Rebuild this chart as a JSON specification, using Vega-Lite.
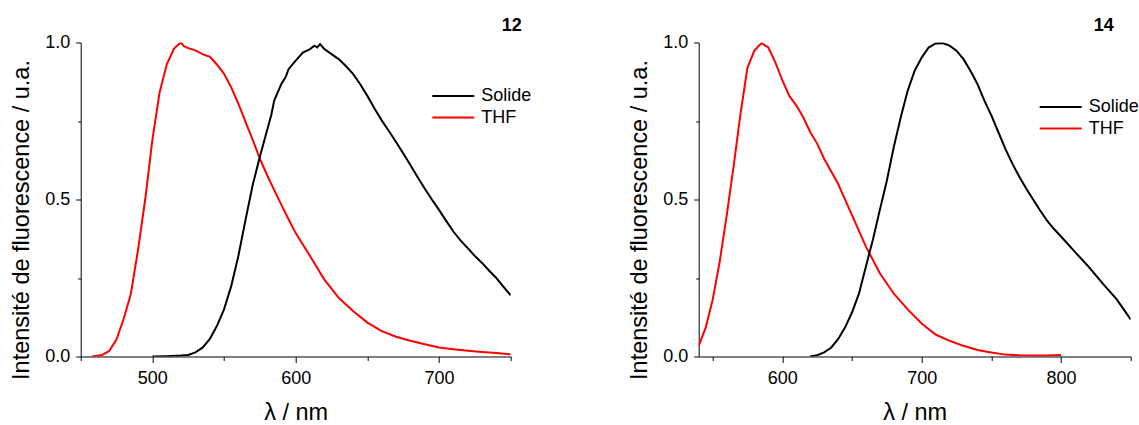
{
  "$schema": "https://vega.github.io/schema/vega-lite/v6.json",
  "background": "white",
  "padding": {"left": 8.7, "top": 16.5, "right": 5, "bottom": 0},
  "config": {
    "view": {"stroke": null},
    "font": "Liberation Sans",
    "axis": {
      "grid": false,
      "domainColor": "#000000",
      "domainWidth": 1,
      "tickColor": "#000000",
      "tickWidth": 1,
      "labelColor": "#000000",
      "labelFont": "Liberation Sans",
      "labelFontSize": 18,
      "titleFont": "Liberation Sans",
      "titleFontSize": 23.5,
      "titleFontWeight": "normal",
      "titleColor": "#000000"
    },
    "axisX": {"labelPadding": 7, "titlePadding": 13},
    "axisY": {"labelPadding": 6, "titlePadding": 11},
    "legend": {
      "labelFont": "Liberation Sans",
      "labelFontSize": 18,
      "labelColor": "#000000",
      "symbolType": "M-2,0H2",
      "symbolSize": 441,
      "symbolStrokeWidth": 2,
      "symbolFillColor": "transparent",
      "labelOffset": 16.5,
      "rowPadding": 0.6,
      "padding": 0,
      "title": null
    },
    "title": {"font": "Liberation Sans", "fontSize": 18, "fontWeight": "bold", "color": "#000000", "frame": "group"}
  },
  "datasets": {
    "p12": [
      {"nm": 458, "I": 0, "s": "THF"}, {"nm": 465, "I": 0.005, "s": "THF"}, {"nm": 470, "I": 0.018, "s": "THF"}, {"nm": 475, "I": 0.055, "s": "THF"}, {"nm": 480, "I": 0.12, "s": "THF"}, {"nm": 485, "I": 0.2, "s": "THF"}, {"nm": 490, "I": 0.34, "s": "THF"}, {"nm": 495, "I": 0.5, "s": "THF"}, {"nm": 500, "I": 0.69, "s": "THF"}, {"nm": 505, "I": 0.84, "s": "THF"}, {"nm": 510, "I": 0.93, "s": "THF"}, {"nm": 515, "I": 0.98, "s": "THF"}, {"nm": 518, "I": 0.993, "s": "THF"}, {"nm": 520, "I": 1.0, "s": "THF"}, {"nm": 522, "I": 0.988, "s": "THF"}, {"nm": 525, "I": 0.982, "s": "THF"}, {"nm": 530, "I": 0.975, "s": "THF"}, {"nm": 535, "I": 0.963, "s": "THF"}, {"nm": 538, "I": 0.958, "s": "THF"}, {"nm": 540, "I": 0.955, "s": "THF"}, {"nm": 545, "I": 0.93, "s": "THF"}, {"nm": 550, "I": 0.9, "s": "THF"}, {"nm": 555, "I": 0.857, "s": "THF"}, {"nm": 560, "I": 0.805, "s": "THF"}, {"nm": 565, "I": 0.747, "s": "THF"}, {"nm": 570, "I": 0.69, "s": "THF"}, {"nm": 575, "I": 0.63, "s": "THF"}, {"nm": 580, "I": 0.578, "s": "THF"}, {"nm": 585, "I": 0.53, "s": "THF"}, {"nm": 590, "I": 0.483, "s": "THF"}, {"nm": 595, "I": 0.437, "s": "THF"}, {"nm": 600, "I": 0.393, "s": "THF"}, {"nm": 610, "I": 0.32, "s": "THF"}, {"nm": 620, "I": 0.245, "s": "THF"}, {"nm": 630, "I": 0.187, "s": "THF"}, {"nm": 640, "I": 0.145, "s": "THF"}, {"nm": 650, "I": 0.108, "s": "THF"}, {"nm": 660, "I": 0.081, "s": "THF"}, {"nm": 670, "I": 0.063, "s": "THF"}, {"nm": 680, "I": 0.05, "s": "THF"}, {"nm": 690, "I": 0.039, "s": "THF"}, {"nm": 700, "I": 0.029, "s": "THF"}, {"nm": 710, "I": 0.023, "s": "THF"}, {"nm": 720, "I": 0.018, "s": "THF"}, {"nm": 730, "I": 0.014, "s": "THF"}, {"nm": 740, "I": 0.011, "s": "THF"}, {"nm": 750, "I": 0.007, "s": "THF"},
      {"nm": 500, "I": 0, "s": "Solide"}, {"nm": 510, "I": 0.001, "s": "Solide"}, {"nm": 520, "I": 0.003, "s": "Solide"}, {"nm": 525, "I": 0.005, "s": "Solide"}, {"nm": 530, "I": 0.013, "s": "Solide"}, {"nm": 535, "I": 0.028, "s": "Solide"}, {"nm": 540, "I": 0.055, "s": "Solide"}, {"nm": 545, "I": 0.097, "s": "Solide"}, {"nm": 550, "I": 0.15, "s": "Solide"}, {"nm": 555, "I": 0.224, "s": "Solide"}, {"nm": 560, "I": 0.32, "s": "Solide"}, {"nm": 565, "I": 0.435, "s": "Solide"}, {"nm": 570, "I": 0.546, "s": "Solide"}, {"nm": 575, "I": 0.636, "s": "Solide"}, {"nm": 580, "I": 0.72, "s": "Solide"}, {"nm": 583, "I": 0.77, "s": "Solide"}, {"nm": 585, "I": 0.815, "s": "Solide"}, {"nm": 590, "I": 0.868, "s": "Solide"}, {"nm": 593, "I": 0.89, "s": "Solide"}, {"nm": 595, "I": 0.915, "s": "Solide"}, {"nm": 600, "I": 0.942, "s": "Solide"}, {"nm": 605, "I": 0.968, "s": "Solide"}, {"nm": 610, "I": 0.979, "s": "Solide"}, {"nm": 613, "I": 0.99, "s": "Solide"}, {"nm": 615, "I": 0.984, "s": "Solide"}, {"nm": 617, "I": 0.995, "s": "Solide"}, {"nm": 620, "I": 0.979, "s": "Solide"}, {"nm": 625, "I": 0.963, "s": "Solide"}, {"nm": 630, "I": 0.947, "s": "Solide"}, {"nm": 635, "I": 0.925, "s": "Solide"}, {"nm": 640, "I": 0.9, "s": "Solide"}, {"nm": 645, "I": 0.867, "s": "Solide"}, {"nm": 650, "I": 0.83, "s": "Solide"}, {"nm": 655, "I": 0.79, "s": "Solide"}, {"nm": 660, "I": 0.752, "s": "Solide"}, {"nm": 665, "I": 0.718, "s": "Solide"}, {"nm": 670, "I": 0.683, "s": "Solide"}, {"nm": 675, "I": 0.647, "s": "Solide"}, {"nm": 680, "I": 0.61, "s": "Solide"}, {"nm": 685, "I": 0.572, "s": "Solide"}, {"nm": 690, "I": 0.535, "s": "Solide"}, {"nm": 695, "I": 0.5, "s": "Solide"}, {"nm": 700, "I": 0.467, "s": "Solide"}, {"nm": 705, "I": 0.432, "s": "Solide"}, {"nm": 710, "I": 0.398, "s": "Solide"}, {"nm": 715, "I": 0.37, "s": "Solide"}, {"nm": 720, "I": 0.345, "s": "Solide"}, {"nm": 725, "I": 0.32, "s": "Solide"}, {"nm": 730, "I": 0.298, "s": "Solide"}, {"nm": 735, "I": 0.273, "s": "Solide"}, {"nm": 740, "I": 0.25, "s": "Solide"}, {"nm": 745, "I": 0.222, "s": "Solide"}, {"nm": 750, "I": 0.195, "s": "Solide"}
    ],
    "p14": [
      {"nm": 540, "I": 0.034, "s": "THF"}, {"nm": 545, "I": 0.092, "s": "THF"}, {"nm": 550, "I": 0.18, "s": "THF"}, {"nm": 555, "I": 0.3, "s": "THF"}, {"nm": 560, "I": 0.446, "s": "THF"}, {"nm": 565, "I": 0.604, "s": "THF"}, {"nm": 570, "I": 0.773, "s": "THF"}, {"nm": 575, "I": 0.92, "s": "THF"}, {"nm": 580, "I": 0.974, "s": "THF"}, {"nm": 585, "I": 0.998, "s": "THF"}, {"nm": 590, "I": 0.984, "s": "THF"}, {"nm": 595, "I": 0.937, "s": "THF"}, {"nm": 600, "I": 0.88, "s": "THF"}, {"nm": 605, "I": 0.83, "s": "THF"}, {"nm": 610, "I": 0.8, "s": "THF"}, {"nm": 615, "I": 0.762, "s": "THF"}, {"nm": 620, "I": 0.715, "s": "THF"}, {"nm": 625, "I": 0.678, "s": "THF"}, {"nm": 630, "I": 0.63, "s": "THF"}, {"nm": 640, "I": 0.55, "s": "THF"}, {"nm": 650, "I": 0.45, "s": "THF"}, {"nm": 660, "I": 0.35, "s": "THF"}, {"nm": 670, "I": 0.265, "s": "THF"}, {"nm": 680, "I": 0.2, "s": "THF"}, {"nm": 690, "I": 0.15, "s": "THF"}, {"nm": 700, "I": 0.105, "s": "THF"}, {"nm": 710, "I": 0.07, "s": "THF"}, {"nm": 720, "I": 0.05, "s": "THF"}, {"nm": 730, "I": 0.034, "s": "THF"}, {"nm": 740, "I": 0.021, "s": "THF"}, {"nm": 750, "I": 0.013, "s": "THF"}, {"nm": 760, "I": 0.006, "s": "THF"}, {"nm": 770, "I": 0.004, "s": "THF"}, {"nm": 780, "I": 0.003, "s": "THF"}, {"nm": 790, "I": 0.003, "s": "THF"}, {"nm": 800, "I": 0.005, "s": "THF"},
      {"nm": 620, "I": 0, "s": "Solide"}, {"nm": 625, "I": 0.004, "s": "Solide"}, {"nm": 630, "I": 0.013, "s": "Solide"}, {"nm": 635, "I": 0.028, "s": "Solide"}, {"nm": 640, "I": 0.055, "s": "Solide"}, {"nm": 645, "I": 0.092, "s": "Solide"}, {"nm": 650, "I": 0.14, "s": "Solide"}, {"nm": 655, "I": 0.2, "s": "Solide"}, {"nm": 660, "I": 0.287, "s": "Solide"}, {"nm": 665, "I": 0.372, "s": "Solide"}, {"nm": 670, "I": 0.467, "s": "Solide"}, {"nm": 675, "I": 0.56, "s": "Solide"}, {"nm": 680, "I": 0.667, "s": "Solide"}, {"nm": 685, "I": 0.762, "s": "Solide"}, {"nm": 690, "I": 0.847, "s": "Solide"}, {"nm": 695, "I": 0.91, "s": "Solide"}, {"nm": 700, "I": 0.952, "s": "Solide"}, {"nm": 705, "I": 0.984, "s": "Solide"}, {"nm": 710, "I": 0.997, "s": "Solide"}, {"nm": 715, "I": 0.998, "s": "Solide"}, {"nm": 720, "I": 0.99, "s": "Solide"}, {"nm": 725, "I": 0.974, "s": "Solide"}, {"nm": 730, "I": 0.947, "s": "Solide"}, {"nm": 735, "I": 0.91, "s": "Solide"}, {"nm": 740, "I": 0.868, "s": "Solide"}, {"nm": 745, "I": 0.815, "s": "Solide"}, {"nm": 750, "I": 0.768, "s": "Solide"}, {"nm": 755, "I": 0.715, "s": "Solide"}, {"nm": 760, "I": 0.662, "s": "Solide"}, {"nm": 765, "I": 0.615, "s": "Solide"}, {"nm": 770, "I": 0.573, "s": "Solide"}, {"nm": 775, "I": 0.535, "s": "Solide"}, {"nm": 780, "I": 0.5, "s": "Solide"}, {"nm": 785, "I": 0.465, "s": "Solide"}, {"nm": 790, "I": 0.433, "s": "Solide"}, {"nm": 795, "I": 0.406, "s": "Solide"}, {"nm": 800, "I": 0.382, "s": "Solide"}, {"nm": 810, "I": 0.333, "s": "Solide"}, {"nm": 820, "I": 0.285, "s": "Solide"}, {"nm": 830, "I": 0.232, "s": "Solide"}, {"nm": 840, "I": 0.182, "s": "Solide"}, {"nm": 845, "I": 0.15, "s": "Solide"}, {"nm": 850, "I": 0.118, "s": "Solide"}
    ]
  },
  "bounds": "flush",
  "spacing": 188,
  "resolve": {"scale": {"color": "independent"}, "legend": {"color": "independent"}},
  "hconcat": [
    {
      "width": 430,
      "height": 314,
      "title": {"text": "12", "anchor": "end", "dx": 11, "offset": -19, "baseline": "bottom"},
      "data": {"name": "p12"},
      "mark": {"type": "line", "strokeWidth": 2, "clip": true},
      "encoding": {
        "x": {"field": "nm", "type": "quantitative", "scale": {"domain": [450, 750], "nice": false, "zero": false},
          "axis": {"title": "λ / nm", "values": [450, 500, 550, 600, 650, 700, 750], "labelExpr": "datum.value % 100 == 0 ? datum.label : ''", "tickSize": {"condition": {"test": "datum.value % 100 != 0", "value": 4}, "value": 6}}},
        "y": {"field": "I", "type": "quantitative", "scale": {"domain": [0, 1], "nice": false},
          "axis": {"title": "Intensité de fluorescence / u.a.", "values": [0, 0.25, 0.5, 0.75, 1], "labelExpr": "datum.value == 0.25 || datum.value == 0.75 ? '' : format(datum.value, '.1f')", "tickSize": {"condition": {"test": "datum.value == 0.25 || datum.value == 0.75", "value": 3}, "value": 5}, "titleY": 177}},
        "color": {"field": "s", "type": "nominal", "scale": {"domain": ["Solide", "THF"], "range": ["#000000", "#ff0000"]},
          "legend": {"orient": "none", "legendX": 361.1, "legendY": 42}},
        "order": {"field": "nm", "type": "quantitative"}
      }
    },
    {
      "width": 432,
      "height": 314,
      "title": {"text": "14", "anchor": "end", "dx": -17, "offset": -19, "baseline": "bottom"},
      "data": {"name": "p14"},
      "mark": {"type": "line", "strokeWidth": 2, "clip": true},
      "encoding": {
        "x": {"field": "nm", "type": "quantitative", "scale": {"domain": [540, 850], "nice": false, "zero": false},
          "axis": {"title": "λ / nm", "values": [550, 600, 650, 700, 750, 800, 850], "labelExpr": "datum.value % 100 == 0 ? datum.label : ''", "tickSize": {"condition": {"test": "datum.value % 100 != 0", "value": 4}, "value": 6}}},
        "y": {"field": "I", "type": "quantitative", "scale": {"domain": [0, 1], "nice": false},
          "axis": {"title": "Intensité de fluorescence / u.a.", "values": [0, 0.25, 0.5, 0.75, 1], "labelExpr": "datum.value == 0.25 || datum.value == 0.75 ? '' : format(datum.value, '.1f')", "tickSize": {"condition": {"test": "datum.value == 0.25 || datum.value == 0.75", "value": 3}, "value": 5}, "titleY": 177}},
        "color": {"field": "s", "type": "nominal", "scale": {"domain": ["Solide", "THF"], "range": ["#000000", "#ff0000"]},
          "legend": {"orient": "none", "legendX": 350.5, "legendY": 53}},
        "order": {"field": "nm", "type": "quantitative"}
      }
    }
  ]
}
